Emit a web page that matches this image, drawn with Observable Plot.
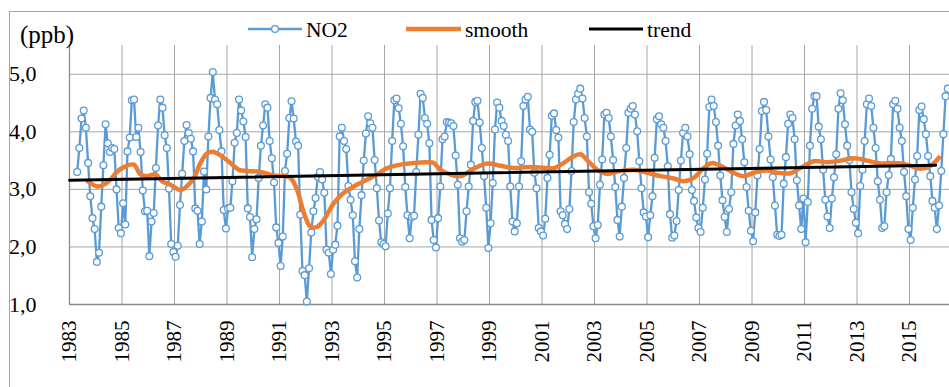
<!DOCTYPE html>
<html>
<head>
<meta charset="utf-8">
<script src="https://cdn.jsdelivr.net/npm/d3@7"></script>
<script src="https://cdn.jsdelivr.net/npm/@observablehq/plot@0.6"></script>
<style>
  body { margin: 0; background: #fff; }
  #chart { position: relative; width: 949px; height: 387px; overflow: hidden;
           font-family: "Liberation Serif", "Times New Roman", serif; }
  #frame { position: absolute; left: 9px; top: 11px; width: 1000px; height: 500px;
           border: 1px solid #a6a6a6; box-sizing: border-box; }
  #overlay { position: absolute; left: 0; top: 0; pointer-events: none; }
  #plot { position: absolute; left: 0; top: 0; }
  #plot svg text { font-family: "Liberation Serif", "Times New Roman", serif; }
</style>
</head>
<body>
<div id="chart">
  <div id="frame"></div>
  <div id="plot"></div>
  <svg id="overlay" width="949" height="387"></svg>
</div>
<script>
// Monthly NO2 (ppb), first value = April 1983
const firstYear = 1983;
const firstMonth = 3; // 0 = January
const no2 = [
  3.30, 3.72, 4.23, 4.37, 4.07, 3.46, 2.88, 2.50, 2.31,
  1.74, 1.90, 2.70, 3.42, 4.13, 3.80, 3.65, 3.72, 3.70, 3.00, 2.33, 2.24,
  2.76, 2.39, 3.66, 3.90, 4.55, 4.56, 3.91, 4.07, 3.65, 2.98, 2.62, 2.63,
  1.84, 2.44, 2.59, 3.37, 4.11, 4.56, 4.42, 3.94, 3.72, 3.01, 2.05, 1.91,
  1.83, 2.02, 2.73, 3.27, 3.84, 4.12, 3.98, 3.88, 3.66, 2.67, 2.63, 2.05,
  2.44, 3.31, 3.00, 3.92, 4.59, 5.04, 4.56, 4.48, 4.03, 3.66, 2.64, 2.32,
  2.67, 2.68, 3.14, 3.81, 3.98, 4.56, 4.37, 4.18, 3.91, 2.67, 2.52, 1.82,
  2.31, 2.48, 3.20, 3.76, 4.11, 4.48, 4.42, 3.84, 3.54, 3.12, 2.34, 2.07,
  1.67, 2.18, 3.32, 3.62, 4.24, 4.53, 4.23, 3.83, 3.76, 2.56, 1.58, 1.51,
  1.05, 1.63, 2.25, 2.62, 2.85, 3.22, 3.30, 3.17, 2.94, 1.95, 1.90, 1.53,
  1.95, 2.04, 2.37, 3.92, 4.07, 3.84, 3.70, 3.06, 2.82, 2.55, 1.75, 1.47,
  2.31, 2.90, 3.50, 3.97, 4.27, 4.15, 4.07, 3.51, 3.02, 2.46, 2.08, 2.05,
  2.01, 2.58, 3.02, 3.84, 4.55, 4.58, 4.41, 4.14, 3.75, 3.04, 2.55, 2.15,
  2.52, 2.54, 3.30, 3.95, 4.66, 4.59, 4.24, 4.14, 3.80, 2.47, 2.12, 1.99,
  2.50, 3.05, 3.87, 3.92, 4.17, 4.16, 4.15, 4.10, 3.59, 3.08, 2.15, 2.09,
  2.12, 2.62, 3.05, 3.43, 4.19, 4.52, 4.54, 4.16, 3.72, 3.23, 2.68, 1.98,
  2.41, 3.11, 4.04, 4.51, 4.42, 4.19, 4.10, 3.95, 3.84, 3.05, 2.44, 2.27,
  2.41, 3.05, 3.49, 4.45, 4.56, 4.61, 4.04, 4.00, 3.29, 3.02, 2.33, 2.27,
  2.20, 2.49, 3.20, 3.60, 4.28, 4.32, 4.03, 3.90, 2.62, 2.55, 2.40, 2.31,
  2.66, 3.32, 4.17, 4.56, 4.66, 4.75, 4.58, 4.24, 3.92, 2.95, 2.75, 2.36,
  2.15, 2.38, 3.08, 3.52, 4.30, 4.33, 4.24, 3.92, 3.51, 3.04, 2.47, 2.18,
  2.70, 3.20, 3.72, 4.33, 4.40, 4.45, 4.30, 4.01, 3.49, 3.02, 2.60, 2.53,
  2.17, 2.55, 2.88, 3.55, 4.22, 4.27, 4.13, 4.07, 3.84, 3.40, 2.57, 2.16,
  2.20, 2.45, 2.99, 3.50, 3.98, 4.07, 3.92, 3.61, 2.99, 2.80, 2.51, 2.33,
  2.26, 2.68, 3.17, 3.62, 4.43, 4.56, 4.45, 4.17, 3.76, 3.24, 2.81, 2.52,
  2.26, 2.66, 2.95, 3.79, 4.11, 4.30, 4.19, 3.87, 3.47, 3.04, 2.63, 2.28,
  2.10, 2.60, 3.24, 3.70, 4.36, 4.52, 4.38, 3.92, 3.52, 3.21, 2.72, 2.21,
  2.19, 2.21, 3.10, 3.56, 4.14, 4.30, 4.24, 3.87, 3.16, 2.72, 2.31, 2.84,
  2.08, 2.78, 3.76, 4.40, 4.62, 4.62, 4.09, 3.87, 3.34, 2.82, 2.53, 2.33,
  2.84, 3.21, 3.61, 4.40, 4.67, 4.55, 4.13, 3.76, 3.51, 2.95, 2.66, 2.42,
  2.24, 3.06, 3.34, 3.84, 4.48, 4.58, 4.45, 4.07, 3.72, 3.14, 2.82, 2.33,
  2.36, 2.95, 3.25, 3.53, 4.48, 4.54, 4.40, 4.07, 3.84, 3.30, 2.88, 2.31,
  2.12, 2.68, 3.17, 3.58, 4.38, 4.44, 4.22, 3.96, 3.58, 3.23, 2.80, 2.68,
  2.31, 2.72, 3.32, 3.96, 4.62, 4.75
];

// Smoothed curve, read at (decimal year, ppb)
const smoothYear = [
  1983.70, 1984.05, 1984.30, 1984.56, 1984.82, 1985.13, 1985.45, 1985.70, 1985.96,
  1986.28, 1986.53, 1986.85, 1987.23, 1987.46, 1987.74, 1987.99, 1988.25, 1988.50,
  1988.75, 1989.13, 1989.45, 1989.77, 1990.15, 1990.40, 1990.78, 1991.16, 1991.42,
  1991.67, 1991.93, 1992.18, 1992.44, 1992.69, 1993.07, 1993.45, 1993.83, 1994.34,
  1994.72, 1995.10, 1995.61, 1996.12, 1996.63, 1996.88, 1997.13, 1997.51, 1997.90,
  1998.40, 1998.91, 1999.42, 1999.93, 2000.44, 2000.95, 2001.46, 2001.83, 2002.22,
  2002.47, 2002.72, 2003.11, 2003.49, 2003.87, 2004.50, 2005.01, 2005.52, 2006.02,
  2006.40, 2006.78, 2007.16, 2007.48, 2007.80, 2008.30, 2008.69, 2009.07, 2009.58,
  2009.96, 2010.46, 2010.84, 2011.35, 2011.86, 2012.37, 2012.88, 2013.39, 2013.90,
  2014.40, 2014.91, 2015.42, 2015.80, 2016.12
];
const smoothValue = [
  3.14, 3.05, 3.08, 3.17, 3.31, 3.40, 3.43, 3.26, 3.23,
  3.26, 3.14, 3.08, 2.99, 3.05, 3.20, 3.46, 3.63, 3.65,
  3.59, 3.46, 3.34, 3.32, 3.31, 3.29, 3.24, 3.23, 3.20,
  2.99, 2.59, 2.35, 2.35, 2.47, 2.76, 2.94, 3.05, 3.17,
  3.26, 3.37, 3.43, 3.46, 3.47, 3.46, 3.34, 3.26, 3.23,
  3.36, 3.45, 3.41, 3.37, 3.39, 3.38, 3.37, 3.46, 3.58,
  3.61, 3.51, 3.34, 3.27, 3.31, 3.34, 3.29, 3.23, 3.19,
  3.14, 3.20, 3.37, 3.46, 3.41, 3.29, 3.23, 3.29, 3.33,
  3.29, 3.28, 3.37, 3.49, 3.47, 3.50, 3.54, 3.50, 3.45,
  3.46, 3.43, 3.36, 3.41, 3.55
];

// Linear trend end points
const trendYear = [1983.0, 2016.0];
const trendValue = [3.16, 3.42];

// Axis ticks
const xTicks = [1983, 1985, 1987, 1989, 1991, 1993, 1995, 1997, 1999, 2001, 2003, 2005, 2007, 2009, 2011, 2013, 2015];
const yTicks = [1, 2, 3, 4, 5];

const seriesNames = ["NO2", "smooth", "trend"];
const colors = { no2: "#5B9BD5", smooth: "#ED7D31", trend: "#000000" };

const monthly = no2.map((v, i) => ({ t: firstYear + (firstMonth + i + 0.5) / 12, v }));
const smooth = smoothYear.map((t, i) => ({ t, v: smoothValue[i] }));
const trend = trendYear.map((t, i) => ({ t, v: trendValue[i] }));

const W = 949, H = 387;
const mL = 69, mR = 0, mT = 45, mB = 83;
const pxPerYear = 26.25;
const serif = "'Liberation Serif', 'Times New Roman', serif";

const chart = Plot.plot({
  width: W, height: H,
  marginLeft: mL, marginRight: mR, marginTop: mT, marginBottom: mB,
  style: { fontFamily: serif, fontSize: "21px", color: "#000", background: "transparent" },
  x: { domain: [firstYear, firstYear + (W - mL - mR) / pxPerYear], label: null },
  y: { domain: [1, 5.5], label: null },
  marks: [
    Plot.ruleY(yTicks.filter(d => d > 1), { stroke: "#a6a6a6", strokeWidth: 1 }),
    Plot.ruleX(xTicks, { y1: 1, y2: 5.5, stroke: "#a6a6a6", strokeWidth: 1 }),
    Plot.ruleY([1], { stroke: "#8c8c8c", strokeWidth: 1.3 }),
    Plot.ruleX([firstYear], { y1: 1, y2: 5.5, stroke: "#8c8c8c", strokeWidth: 1.3 }),
    Plot.axisY({ ticks: yTicks, tickSize: 0, tickPadding: 33, fontSize: 22, fontFamily: serif, label: null,
                 tickFormat: d => d.toFixed(1).replace(".", ",") }),
    Plot.axisX({ ticks: xTicks, tickSize: 0, tickPadding: 16, tickRotate: -90, fontSize: 21, fontFamily: serif, label: null,
                 tickFormat: d => String(d) }),
    Plot.line(monthly, { x: "t", y: "v", stroke: colors.no2, strokeWidth: 2.3 }),
    Plot.dot(monthly, { x: "t", y: "v", r: 3.4, stroke: colors.no2, strokeWidth: 1.3, fill: "white" }),
    Plot.line(smooth, { x: "t", y: "v", curve: "catmull-rom", stroke: colors.smooth, strokeWidth: 4.5 }),
    Plot.line(trend, { x: "t", y: "v", stroke: colors.trend, strokeWidth: 3 })
  ]
});
document.getElementById("plot").appendChild(chart);

// Unit label and legend
const ov = d3.select("#overlay");
ov.append("text").attr("x", 20).attr("y", 43).attr("font-family", serif).attr("font-size", 25).text("(ppb)");

const legendY = 29, legendBase = 37;
const legend = [
  { name: seriesNames[0], x1: 248, x2: 302, tx: 306, color: colors.no2, w: 2.3, marker: true },
  { name: seriesNames[1], x1: 406, x2: 461, tx: 465, color: colors.smooth, w: 4.5 },
  { name: seriesNames[2], x1: 589, x2: 643, tx: 647, color: colors.trend, w: 3 }
];
legend.forEach(l => {
  ov.append("line").attr("x1", l.x1).attr("x2", l.x2).attr("y1", legendY).attr("y2", legendY)
    .attr("stroke", l.color).attr("stroke-width", l.w);
  if (l.marker) {
    ov.append("circle").attr("cx", (l.x1 + l.x2) / 2).attr("cy", legendY).attr("r", 3.4)
      .attr("fill", "white").attr("stroke", l.color).attr("stroke-width", 1.3);
  }
  ov.append("text").attr("x", l.tx).attr("y", legendBase).attr("font-family", serif)
    .attr("font-size", 21.5).text(l.name);
});
</script>
</body>
</html>
